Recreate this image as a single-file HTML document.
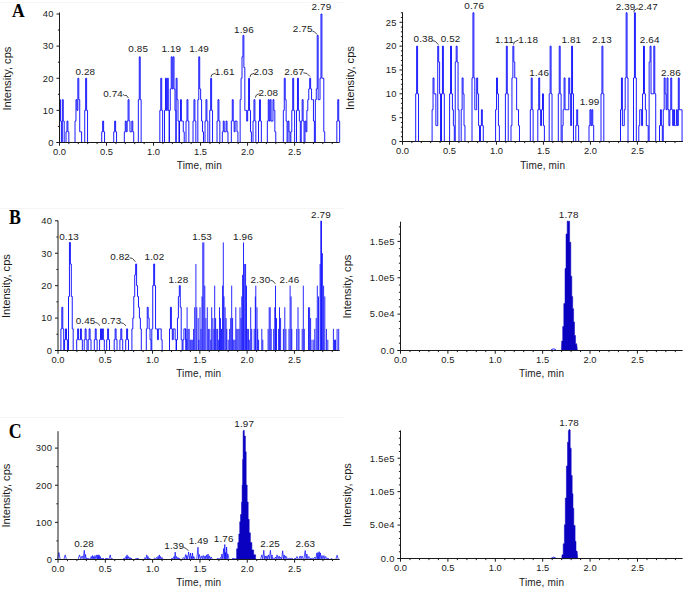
<!DOCTYPE html>
<html><head><meta charset="utf-8"><style>
html,body{margin:0;padding:0;background:#fff;}
body{width:685px;height:589px;overflow:hidden;}
svg{display:block;}
text{font-family:"Liberation Sans",sans-serif;}
.L{font-family:"Liberation Serif",serif;}
</style></head><body>
<svg width="685" height="589" viewBox="0 0 685 589">
<rect x="0" y="0" width="685" height="589" fill="#fff"/>
<g stroke="#f5f5f5" stroke-width="1"><line x1="0" y1="2.5" x2="344" y2="2.5"/><line x1="0" y1="208.5" x2="344" y2="208.5"/><line x1="0" y1="417.5" x2="344" y2="417.5"/></g>
<g font-weight="bold" font-size="17.5" fill="#000">
<text class="L" transform="translate(12,16.7) scale(1,1.12)">A</text>
<text class="L" transform="translate(9.1,223.6) scale(1.02,1.14)">B</text>
<text class="L" transform="translate(8.7,437.6) scale(1.02,1.16)">C</text>
</g>
<defs><filter id="bl" x="-5%" y="-5%" width="110%" height="110%"><feGaussianBlur stdDeviation="0.4"/></filter></defs>
<g filter="url(#bl)"><path d="M59.50,142.50 H59.50 V99.67 H60.44 H60.44 V121.08 H61.38 H61.38 V142.50 H62.32 H62.32 V99.67 H63.26 H63.26 V121.08 H64.20 V142.50 H66.03 V131.79 H66.97 H66.97 V121.08 H67.91 H67.91 V131.79 H68.85 V142.50 H75.03 V121.08 H75.97 H75.97 V99.67 H76.91 H76.91 V110.38 H77.85 H77.85 V78.25 H78.79 H78.79 V99.67 H79.73 H79.73 V131.79 H80.67 H81.61 V142.50 H84.73 V110.38 H85.67 H85.67 V78.25 H86.61 H86.61 V110.38 H87.55 V142.50 H101.73 V131.79 H102.67 H102.67 V121.08 H103.61 H103.61 V131.79 H104.55 V142.50 H113.73 V131.79 H114.67 H114.67 V121.08 H115.61 H115.61 V131.79 H116.55 V142.50 H124.33 V131.79 H125.27 H125.27 V121.08 H126.21 H126.21 V131.79 H127.15 H127.15 V121.08 H128.09 H128.09 V99.67 H129.03 H129.03 V121.08 H129.97 H129.97 V131.79 H130.91 H131.85 H131.85 V121.08 H132.79 H132.79 V131.79 H133.73 V142.50 H138.33 V99.67 H139.27 H139.27 V56.83 H140.21 H140.21 V99.67 H141.15 V142.50 H159.83 V110.38 H160.77 H160.77 V78.25 H161.71 H161.71 V110.38 H162.65 V142.50 H164.53 V110.38 H165.47 H165.47 V78.25 H166.41 H166.41 V110.38 H167.35 H167.35 V78.25 H168.29 H168.29 V110.38 H169.23 V142.50 H169.33 V110.38 H170.27 H170.27 V88.96 H171.21 H171.21 V56.83 H172.15 H172.15 V88.96 H173.09 H173.09 V56.83 H174.03 H174.03 V88.96 H174.97 H174.97 V110.38 H175.91 V142.50 H176.13 V78.25 H177.07 H177.07 V99.67 H178.01 H178.01 V121.08 H178.95 V142.50 H179.53 V121.08 H180.47 H180.47 V99.67 H181.41 H181.41 V121.08 H182.35 H183.29 H183.29 V131.79 H184.23 V142.50 H186.03 V121.08 H186.97 H186.97 V99.67 H187.91 H187.91 V121.08 H188.85 V142.50 H193.03 V121.08 H193.97 H193.97 V99.67 H194.91 H194.91 V121.08 H195.85 V142.50 H197.83 V99.67 H198.77 H198.77 V56.83 H199.71 H199.71 V88.96 H200.65 H200.65 V99.67 H201.59 H201.59 V121.08 H202.53 H202.53 V131.79 H203.47 V142.50 H205.03 V121.08 H205.97 H205.97 V99.67 H206.91 H206.91 V121.08 H207.85 V142.50 H209.73 V110.38 H210.67 H210.67 V78.25 H211.61 H211.61 V110.38 H212.55 V142.50 H217.03 V121.08 H217.97 H217.97 V99.67 H218.91 H218.91 V121.08 H219.85 V142.50 H222.33 V131.79 H223.27 H223.27 V121.08 H224.21 H224.21 V131.79 H225.15 H226.09 H226.09 V121.08 H227.03 H227.03 V131.79 H227.97 V142.50 H231.33 V121.08 H232.27 H232.27 V99.67 H233.21 H233.21 V121.08 H234.15 H234.15 V131.79 H235.09 H235.09 V121.08 H236.03 H236.97 H236.97 V131.79 H237.91 V142.50 H240.13 V99.67 H241.07 H241.07 V78.25 H242.01 H242.01 V56.83 H242.95 H242.95 V35.42 H243.89 H243.89 V67.54 H244.83 H244.83 V110.38 H245.77 H246.71 H246.71 V121.08 H247.65 H247.65 V110.38 H248.59 H248.59 V78.25 H249.53 H249.53 V110.38 H250.47 H250.47 V131.79 H251.41 V142.50 H253.03 V121.08 H253.97 H253.97 V99.67 H254.91 H254.91 V121.08 H255.85 V142.50 H258.53 V121.08 H259.47 H259.47 V99.67 H260.41 H260.41 V121.08 H261.35 V142.50 H267.33 V121.08 H268.27 H268.27 V99.67 H269.21 H269.21 V121.08 H270.15 H270.15 V99.67 H271.09 H271.09 V121.08 H272.03 H272.97 H272.97 V99.67 H273.91 H273.91 V110.38 H274.85 H274.85 V131.79 H275.79 V142.50 H283.33 V110.38 H284.27 H284.27 V78.25 H285.21 H285.21 V99.67 H286.15 H286.15 V121.08 H287.09 H287.09 V142.50 H288.03 H288.03 V121.08 H288.97 H288.97 V131.79 H289.91 H289.91 V142.50 H290.85 H290.85 V131.79 H291.79 H291.79 V110.38 H292.73 H292.73 V78.25 H293.67 H293.67 V110.38 H294.61 V142.50 H296.53 V110.38 H297.47 H297.47 V78.25 H298.41 H298.41 V110.38 H299.35 H299.35 V121.08 H300.29 H300.29 V142.50 H301.23 H301.23 V121.08 H302.17 H302.17 V99.67 H303.11 H303.11 V121.08 H304.05 H304.05 V142.50 H304.99 H304.99 V121.08 H305.93 H305.93 V131.79 H306.87 H306.87 V110.38 H307.81 H307.81 V99.67 H308.75 H308.75 V88.96 H309.69 H309.69 V78.25 H310.63 H310.63 V88.96 H311.57 H311.57 V99.67 H312.51 H313.45 H313.45 V121.08 H314.39 V142.50 H315.33 V99.67 H316.27 H316.27 V88.96 H317.21 H317.21 V35.42 H318.15 H318.15 V99.67 H319.09 H320.03 H320.03 V78.25 H320.97 H320.97 V14.00 H321.91 H321.91 V78.25 H322.85 H323.79 H323.79 V131.79 H324.73 V142.50 H336.83 V121.08 H337.77 H337.77 V99.67 H338.71 H338.71 V121.08 H339.65 V142.50 H339.20" fill="#0000ff" fill-opacity="0" stroke="#0000ff" stroke-width="0.9" stroke-opacity="1.0" stroke-linejoin="miter"/></g>
<g filter="url(#bl)"><path d="M402.50,141.50 H415.70 V93.82 H416.64 H416.64 V46.14 H417.58 H417.58 V93.82 H418.52 V141.50 H432.10 V109.71 H433.04 H433.04 V77.93 H433.98 H433.98 V93.82 H434.92 H435.86 H435.86 V125.61 H436.80 H437.74 H437.74 V46.14 H438.68 H438.68 V62.03 H439.62 H439.62 V93.82 H440.56 H440.56 V141.50 H441.50 H441.50 V93.82 H442.44 H442.44 V46.14 H443.38 H443.38 V93.82 H444.32 V141.50 H449.60 V93.82 H450.54 H450.54 V46.14 H451.48 H451.48 V93.82 H452.42 H452.42 V109.71 H453.36 H453.36 V125.61 H454.30 H454.30 V141.50 H455.24 H455.24 V62.03 H456.18 H456.18 V46.14 H457.12 H457.12 V62.03 H458.06 H458.06 V109.71 H459.00 V141.50 H461.20 V109.71 H462.14 H462.14 V77.93 H463.08 H463.08 V93.82 H464.02 H464.02 V125.61 H464.96 V141.50 H472.00 V77.93 H472.94 H472.94 V12.76 H473.88 H473.88 V77.93 H474.82 H474.82 V109.71 H475.76 H476.70 H476.70 V77.93 H477.64 H477.64 V93.82 H478.58 H478.58 V125.61 H479.52 H479.52 V141.50 H480.46 H480.46 V125.61 H481.40 H481.40 V109.71 H482.34 H482.34 V125.61 H483.28 V141.50 H495.60 V109.71 H496.54 H496.54 V77.93 H497.48 H497.48 V93.82 H498.42 H498.42 V125.61 H499.36 V141.50 H505.40 V93.82 H506.34 H506.34 V46.14 H507.28 H507.28 V93.82 H508.22 V141.50 H511.00 V125.61 H511.94 H511.94 V77.93 H512.88 H512.88 V46.14 H513.82 H513.82 V62.03 H514.76 H514.76 V77.93 H515.70 H516.64 H516.64 V109.71 H517.58 H518.52 H518.52 V125.61 H519.46 V141.50 H530.30 V109.71 H531.24 H531.24 V77.93 H532.18 H532.18 V109.71 H533.12 V141.50 H537.80 V109.71 H538.74 H538.74 V77.93 H539.68 H539.68 V109.71 H540.62 H540.62 V125.61 H541.56 H541.56 V109.71 H542.50 H542.50 V93.82 H543.44 H543.44 V125.61 H544.38 V141.50 H549.20 V93.82 H550.14 H550.14 V46.14 H551.08 H551.08 V93.82 H552.02 V141.50 H558.30 V93.82 H559.24 H559.24 V46.14 H560.18 H560.18 V93.82 H561.12 V141.50 H562.20 V125.61 H563.14 H563.14 V109.71 H564.08 H564.08 V77.93 H565.02 H565.02 V109.71 H565.96 H566.90 H567.84 H568.78 H568.78 V77.93 H569.72 H569.72 V93.82 H570.66 H570.66 V125.61 H571.60 H571.60 V46.14 H572.54 H572.54 V93.82 H573.48 V141.50 H575.80 V125.61 H576.74 H576.74 V109.71 H577.68 H577.68 V125.61 H578.62 V141.50 H589.00 V125.61 H589.94 H589.94 V109.71 H590.88 H590.88 V125.61 H591.82 H591.82 V109.71 H592.76 H592.76 V125.61 H593.70 V141.50 H601.00 V93.82 H601.94 H601.94 V46.14 H602.88 H602.88 V93.82 H603.82 V141.50 H620.50 V109.71 H621.44 H621.44 V77.93 H622.38 H622.38 V125.61 H623.32 H624.26 H624.26 V109.71 H625.20 H625.20 V77.93 H626.14 H626.14 V12.76 H627.08 H627.08 V77.93 H628.02 V141.50 H633.50 V77.93 H634.44 H634.44 V12.76 H635.38 H635.38 V77.93 H636.32 V141.50 H638.80 V125.61 H639.74 H639.74 V109.71 H640.68 H641.62 H641.62 V125.61 H642.56 H642.56 V93.82 H643.50 H643.50 V46.14 H644.44 H644.44 V93.82 H645.38 H645.38 V109.71 H646.32 H646.32 V125.61 H647.26 H648.20 H648.20 V141.50 H649.14 H649.14 V62.03 H650.08 H650.08 V46.14 H651.02 H651.02 V93.82 H651.96 H652.90 H653.84 H653.84 V46.14 H654.78 H654.78 V93.82 H655.72 V141.50 H659.50 V125.61 H660.44 H660.44 V109.71 H661.38 H661.38 V125.61 H662.32 H662.32 V141.50 H663.26 H663.26 V109.71 H664.20 H664.20 V77.93 H665.14 H665.14 V93.82 H666.08 H666.08 V109.71 H667.02 H667.02 V77.93 H667.96 H667.96 V109.71 H668.90 H668.90 V125.61 H669.84 H669.84 V109.71 H670.78 H670.78 V77.93 H671.72 H671.72 V109.71 H672.66 H672.66 V125.61 H673.60 H673.60 V109.71 H674.54 H674.54 V125.61 H675.48 H676.42 H676.42 V109.71 H677.36 H677.36 V125.61 H678.30 H678.30 V77.93 H679.24 H679.24 V109.71 H680.18 H681.12 H682.06 V141.50 H682.90" fill="#0000ff" fill-opacity="0" stroke="#0000ff" stroke-width="0.9" stroke-opacity="1.0" stroke-linejoin="miter"/></g>
<g filter="url(#bl)"><path d="M58.00,350.50 H60.90 V328.88 H61.84 H61.84 V307.27 H62.78 H62.78 V328.88 H63.72 V350.50 H64.60 V339.69 H65.54 H65.54 V328.88 H66.48 H66.48 V339.69 H67.42 V350.50 H68.50 V296.46 H69.44 H69.44 V242.42 H70.38 H70.38 V264.03 H71.32 H71.32 V296.46 H72.26 H72.26 V328.88 H73.20 V350.50 H76.70 V339.69 H77.64 H77.64 V328.88 H78.58 H78.58 V339.69 H79.52 H80.46 H80.46 V328.88 H81.40 H81.40 V339.69 H82.34 V350.50 H84.20 V339.69 H85.14 H85.14 V328.88 H86.08 H86.08 V339.69 H87.02 V350.50 H88.20 V339.69 H89.14 H89.14 V328.88 H90.08 H90.08 V339.69 H91.02 V350.50 H94.30 V339.69 H95.24 H95.24 V328.88 H96.18 H96.18 V339.69 H97.12 V350.50 H99.60 V339.69 H100.54 H100.54 V328.88 H101.48 H101.48 V339.69 H102.42 H102.42 V328.88 H103.36 H103.36 V339.69 H104.30 V350.50 H106.70 V339.69 H107.64 H107.64 V328.88 H108.58 H108.58 V339.69 H109.52 V350.50 H114.20 V339.69 H115.14 H115.14 V328.88 H116.08 H116.08 V339.69 H117.02 V350.50 H119.90 V339.69 H120.84 H120.84 V328.88 H121.78 H121.78 V339.69 H122.72 V350.50 H125.70 V339.69 H126.64 H126.64 V328.88 H127.58 H127.58 V339.69 H128.52 V350.50 H131.90 V328.88 H132.84 H132.84 V318.07 H133.78 H133.78 V296.46 H134.72 H134.72 V274.84 H135.66 H135.66 V264.03 H136.60 H136.60 V285.65 H137.54 H137.54 V296.46 H138.48 H138.48 V307.27 H139.42 H139.42 V318.07 H140.36 H140.36 V328.88 H141.30 V350.50 H146.30 V328.88 H147.24 H147.24 V307.27 H148.18 H148.18 V318.07 H149.12 H149.12 V328.88 H150.06 H150.06 V339.69 H151.00 V350.50 H151.80 V328.88 H152.74 H152.74 V285.65 H153.68 H153.68 V264.03 H154.62 H154.62 V285.65 H155.56 H155.56 V328.88 H156.50 H157.44 H157.44 V339.69 H158.38 H158.38 V328.88 H159.32 H160.26 H161.20 H161.20 V339.69 H162.14 V350.50 H169.50 V328.88 H170.44 H170.44 V307.27 H171.38 H171.38 V328.88 H172.32 H172.32 V339.69 H173.26 H173.26 V328.88 H174.20 H175.14 H175.14 V339.69 H176.08 V350.50 H176.50 V339.69 H177.44 H177.44 V318.07 H178.38 H178.38 V296.46 H179.32 H179.32 V285.65 H180.26 H180.26 V307.27 H181.20 H181.20 V339.69 H182.14 V350.50 H183.00 V339.69 H183.94 H183.94 V328.88 H184.88 H185.82 H185.82 V339.69 H186.76 V350.50 H339.50" fill="#0000ff" fill-opacity="0" stroke="#0000ff" stroke-width="0.9" stroke-opacity="1.0" stroke-linejoin="miter"/><path d="M185.70,350.50V328.88 M187.10,350.50V307.27 M188.10,350.50V328.88 M189.20,350.50V328.88 M190.30,350.50V339.69 M191.30,350.50V339.69 M192.70,350.50V339.69 M193.60,350.50V328.88 M194.70,350.50V307.27 M195.90,350.50V264.03 M196.80,350.50V307.27 M198.20,350.50V318.07 M198.90,350.50V339.69 M200.00,350.50V307.27 M201.00,350.50V328.88 M202.00,350.50V296.46 M202.80,350.50V242.42 M203.80,350.50V242.42 M204.80,350.50V285.65 M205.90,350.50V318.07 M207.30,350.50V307.27 M208.40,350.50V328.88 M209.80,350.50V328.88 M210.80,350.50V339.69 M211.70,350.50V307.27 M212.90,350.50V318.07 M214.00,350.50V328.88 M214.70,350.50V285.65 M215.60,350.50V318.07 M216.80,350.50V328.88 M217.70,350.50V328.88 M218.70,350.50V339.69 M219.50,350.50V307.27 M220.50,350.50V318.07 M221.50,350.50V328.88 M222.60,350.50V285.65 M223.30,350.50V242.42 M224.00,350.50V296.46 M225.10,350.50V307.27 M226.10,350.50V318.07 M226.80,350.50V328.88 M228.20,350.50V339.69 M229.60,350.50V328.88 M230.70,350.50V318.07 M231.70,350.50V285.65 M232.60,350.50V318.07 M233.70,350.50V339.69 M234.90,350.50V339.69 M235.80,350.50V307.27 M236.80,350.50V328.88 M237.90,350.50V328.88 M239.00,350.50V328.88 M240.00,350.50V307.27 M241.00,350.50V318.07 M241.80,350.50V296.46 M242.60,350.50V274.84 M243.50,350.50V242.42 M244.70,350.50V264.03 M245.60,350.50V264.03 M246.50,350.50V285.65 M247.30,350.50V328.88 M248.40,350.50V328.88 M249.30,350.50V339.69 M250.70,350.50V307.27 M251.70,350.50V328.88 M254.20,350.50V328.88 M255.30,350.50V296.46 M255.80,350.50V285.65 M257.00,350.50V307.27 M257.70,350.50V328.88 M258.60,350.50V339.69 M261.80,350.50V328.88 M262.80,350.50V339.69 M268.10,350.50V328.88 M269.20,350.50V307.27 M270.20,350.50V307.27 M271.20,350.50V328.88 M273.70,350.50V328.88 M274.80,350.50V307.27 M275.50,350.50V285.65 M276.50,350.50V318.07 M278.60,350.50V328.88 M279.50,350.50V307.27 M280.60,350.50V318.07 M283.40,350.50V328.88 M284.80,350.50V307.27 M285.90,350.50V328.88 M289.00,350.50V328.88 M290.10,350.50V285.65 M291.10,350.50V296.46 M291.80,350.50V328.88 M296.70,350.50V328.88 M298.00,350.50V307.27 M299.00,350.50V328.88 M302.20,350.50V328.88 M303.30,350.50V285.65 M304.30,350.50V328.88 M308.50,350.50V307.27 M309.60,350.50V307.27 M310.60,350.50V318.07 M312.00,350.50V339.69 M313.80,350.50V339.69 M314.80,350.50V328.88 M316.20,350.50V318.07 M317.30,350.50V285.65 M318.50,350.50V296.46 M320.10,350.50V264.03 M320.80,350.50V220.80 M321.50,350.50V220.80 M322.40,350.50V253.23 M323.60,350.50V285.65 M324.80,350.50V296.46 M326.40,350.50V328.88 M327.80,350.50V339.69 M333.40,350.50V328.88 M334.50,350.50V339.69 M335.50,350.50V339.69 M337.10,350.50V328.88 M338.70,350.50V328.88" fill="none" stroke="#0000ff" stroke-width="0.85"/></g>
<polygon points="561.40,350.40 561.70,341.10 562.70,341.10 562.70,326.50 563.80,326.50 563.80,303.60 565.00,303.60 565.00,268.50 566.00,268.50 566.00,234.00 567.20,234.00 567.20,221.20 568.00,220.90 568.40,222.50 568.80,220.90 569.60,221.20 569.60,242.30 570.80,242.30 570.80,276.20 571.80,276.20 571.80,296.60 572.70,296.60 572.70,308.70 573.60,308.70 573.60,322.00 574.50,322.00 574.50,335.40 575.50,335.40 575.50,343.70 576.70,343.70 577.40,350.40" fill="#0a00c0" stroke="#0a00c0" stroke-width="0.5"/><path d="M550.50,350.50 Q553.50,347.30 556.50,350.50" fill="none" stroke="#0000ff" stroke-width="0.9"/>
<polyline points="58.00,559.50 57.60,559.50 58.90,552.50 60.20,559.50 63.90,559.50 65.20,554.90 66.50,559.50 78.20,559.50 79.50,554.90 80.80,558.90 82.10,555.90 83.20,558.90 84.30,550.30 84.90,558.90 85.50,554.50 86.25,558.90 87.00,558.00 87.75,558.90 88.50,558.00 89.80,559.50 90.00,559.50 91.30,556.50 91.90,558.90 92.50,555.50 93.10,558.90 93.70,556.50 94.35,558.90 95.00,555.50 95.95,558.90 96.90,554.90 97.45,558.90 98.00,554.90 98.55,558.90 99.10,554.90 99.65,558.90 100.20,556.50 100.85,558.90 101.50,558.00 102.25,558.90 103.00,558.00 104.30,559.50 104.70,559.50 106.00,558.00 106.75,558.90 107.50,558.00 108.80,559.50 108.90,559.50 110.20,554.90 111.10,558.90 112.00,558.50 113.30,559.50 122.80,559.50 124.10,558.00 125.05,558.90 126.00,556.50 126.50,558.90 127.00,554.90 127.75,558.90 128.50,556.50 129.25,558.90 130.00,557.50 130.60,558.90 131.20,558.00 132.50,559.50 135.00,559.50 136.30,558.00 137.10,558.90 137.90,558.00 139.20,559.50 143.70,559.50 145.00,557.50 145.90,558.90 146.80,554.90 147.40,558.90 148.00,556.50 148.80,558.90 149.60,558.00 150.90,559.50 153.40,559.50 154.70,558.00 155.60,558.90 156.50,557.50 157.25,558.90 158.00,556.50 158.65,558.90 159.30,554.90 159.90,558.90 160.50,556.50 161.25,558.90 162.00,557.50 163.30,559.50 170.80,559.50 172.10,558.00 173.05,558.90 174.00,556.50 174.60,558.90 175.20,552.10 175.85,558.90 176.50,556.50 177.25,558.90 178.00,557.50 178.65,558.90 179.30,558.00 180.60,559.50 182.10,559.50 183.40,557.50 184.55,558.90 185.70,554.50 186.25,558.90 186.80,555.50 187.70,558.90 188.60,552.10 189.60,558.90 190.60,553.00 191.10,558.90 191.60,556.50 192.05,558.90 192.50,553.00 193.15,558.90 193.80,556.50 195.10,559.50 196.70,559.50 198.00,547.20 198.65,558.90 199.30,554.50 200.40,558.90 201.50,555.90 202.35,558.90 203.20,555.50 204.10,558.90 205.00,555.90 205.75,558.90 206.50,554.90 207.25,558.90 208.00,554.00 208.75,558.90 209.50,555.90 210.35,558.90 211.20,557.00 212.50,559.50 216.50,559.50 217.80,558.00 219.10,559.50 219.20,559.50 220.50,557.50 221.20,558.90 221.90,554.00 222.80,558.90 223.70,548.50 224.25,558.90 224.80,544.50 225.20,558.90 225.60,552.50 226.10,558.90 226.60,547.00 227.20,558.90 227.80,553.90 229.10,559.50 231.80,559.50 233.10,558.00 233.80,558.90 234.50,558.00 235.80,559.50 260.50,559.50 261.80,554.90 262.80,558.90 263.80,550.30 264.55,558.90 265.30,555.90 266.10,558.90 266.90,555.90 267.65,558.90 268.40,554.90 269.40,558.90 270.40,550.30 271.20,558.90 272.00,554.90 272.75,558.90 273.50,558.00 274.50,558.90 275.50,557.00 276.25,558.90 277.00,554.90 278.05,558.90 279.10,555.90 279.90,558.90 280.70,557.00 281.70,558.90 282.70,550.80 283.45,558.90 284.20,554.90 285.00,558.90 285.80,555.90 286.80,558.90 287.80,558.00 288.85,558.90 289.90,558.00 290.90,558.90 291.90,558.00 293.20,559.50 293.70,559.50 295.00,558.00 296.00,558.90 297.00,556.50 298.30,559.50 298.80,559.50 300.10,555.90 301.10,558.90 302.10,555.90 303.40,559.50 303.90,559.50 305.20,550.50 306.05,558.90 306.90,553.90 307.85,558.90 308.80,556.50 309.90,558.90 311.00,558.00 311.90,558.90 312.80,558.00 313.90,558.90 315.00,557.00 315.95,558.90 316.90,552.90 317.45,558.90 318.00,552.50 318.60,558.90 319.20,551.70 319.80,558.90 320.40,552.90 321.20,558.90 322.00,555.50 322.95,558.90 323.90,555.50 324.75,558.90 325.60,556.50 326.80,558.90 328.00,558.00 329.30,559.50 330.20,559.50 331.50,558.50 332.80,559.50 335.80,559.50 337.10,555.20 338.40,559.50 339.50,559.50" fill="none" stroke="#0000ff" stroke-width="0.7" stroke-linejoin="round"/><polygon points="235.80,559.40 236.60,557.80 236.60,548.70 237.80,548.70 237.80,542.60 238.80,542.60 238.80,534.00 239.70,534.00 239.70,521.80 240.50,521.80 240.50,514.40 241.50,514.40 241.50,502.20 242.10,502.20 242.10,485.00 242.60,485.00 242.60,459.50 243.10,459.50 243.10,431.50 243.60,430.20 244.30,430.40 244.30,436.00 245.40,436.00 245.40,451.70 246.20,451.70 246.20,485.00 247.20,485.00 247.20,502.00 248.20,502.00 248.20,519.30 249.20,519.30 249.20,532.80 250.40,532.80 250.40,542.60 251.90,542.60 251.90,549.90 253.70,549.90 253.70,554.80 255.60,554.80 255.60,559.40" fill="#0a00c0" stroke="#0a00c0" stroke-width="0.5"/>
<polygon points="561.80,558.70 562.00,554.80 563.20,554.80 563.20,543.80 564.40,543.80 564.40,524.80 565.30,524.80 565.30,498.00 566.40,498.00 566.40,466.00 567.50,466.00 567.50,442.20 568.40,442.20 568.40,431.00 569.30,429.20 570.20,430.00 570.20,448.20 571.20,448.20 571.20,475.50 572.20,475.50 572.20,493.70 573.00,493.70 573.00,508.30 573.80,508.30 573.80,525.50 575.10,525.50 575.10,541.30 576.00,541.30 576.00,551.10 577.10,551.10 577.80,558.70" fill="#0a00c0" stroke="#0a00c0" stroke-width="0.5"/><path d="M550.80,558.50 Q553.65,555.90 556.50,558.50" fill="none" stroke="#0000ff" stroke-width="0.9"/>
<g stroke="#1a1a1a" stroke-width="1" fill="none">
<line x1="59.5" y1="12.5" x2="59.5" y2="142.5" />
<line x1="56.5" y1="142.5" x2="339.2" y2="142.5" />
<line x1="56.5" y1="142.5" x2="59.5" y2="142.5" />
<line x1="56.5" y1="110.38" x2="59.5" y2="110.38" />
<line x1="56.5" y1="78.25" x2="59.5" y2="78.25" />
<line x1="56.5" y1="46.12" x2="59.5" y2="46.12" />
<line x1="56.5" y1="14" x2="59.5" y2="14" />
<line x1="57.9" y1="126.44" x2="59.5" y2="126.44" />
<line x1="57.9" y1="94.31" x2="59.5" y2="94.31" />
<line x1="57.9" y1="62.19" x2="59.5" y2="62.19" />
<line x1="57.9" y1="30.06" x2="59.5" y2="30.06" />
<line x1="59.5" y1="142.5" x2="59.5" y2="145.7" />
<line x1="68.9" y1="142.5" x2="68.9" y2="144.1" />
<line x1="78.31" y1="142.5" x2="78.31" y2="144.1" />
<line x1="87.71" y1="142.5" x2="87.71" y2="144.1" />
<line x1="97.12" y1="142.5" x2="97.12" y2="144.1" />
<line x1="106.52" y1="142.5" x2="106.52" y2="145.7" />
<line x1="115.92" y1="142.5" x2="115.92" y2="144.1" />
<line x1="125.33" y1="142.5" x2="125.33" y2="144.1" />
<line x1="134.73" y1="142.5" x2="134.73" y2="144.1" />
<line x1="144.14" y1="142.5" x2="144.14" y2="144.1" />
<line x1="153.54" y1="142.5" x2="153.54" y2="145.7" />
<line x1="162.94" y1="142.5" x2="162.94" y2="144.1" />
<line x1="172.35" y1="142.5" x2="172.35" y2="144.1" />
<line x1="181.75" y1="142.5" x2="181.75" y2="144.1" />
<line x1="191.16" y1="142.5" x2="191.16" y2="144.1" />
<line x1="200.56" y1="142.5" x2="200.56" y2="145.7" />
<line x1="209.96" y1="142.5" x2="209.96" y2="144.1" />
<line x1="219.37" y1="142.5" x2="219.37" y2="144.1" />
<line x1="228.77" y1="142.5" x2="228.77" y2="144.1" />
<line x1="238.18" y1="142.5" x2="238.18" y2="144.1" />
<line x1="247.58" y1="142.5" x2="247.58" y2="145.7" />
<line x1="256.98" y1="142.5" x2="256.98" y2="144.1" />
<line x1="266.39" y1="142.5" x2="266.39" y2="144.1" />
<line x1="275.79" y1="142.5" x2="275.79" y2="144.1" />
<line x1="285.2" y1="142.5" x2="285.2" y2="144.1" />
<line x1="294.6" y1="142.5" x2="294.6" y2="145.7" />
<line x1="304" y1="142.5" x2="304" y2="144.1" />
<line x1="313.41" y1="142.5" x2="313.41" y2="144.1" />
<line x1="322.81" y1="142.5" x2="322.81" y2="144.1" />
<line x1="332.22" y1="142.5" x2="332.22" y2="144.1" />
<line x1="402.5" y1="12.3" x2="402.5" y2="141.5" />
<line x1="399.5" y1="141.5" x2="682.9" y2="141.5" />
<line x1="399.5" y1="141.5" x2="402.5" y2="141.5" />
<line x1="399.5" y1="117.66" x2="402.5" y2="117.66" />
<line x1="399.5" y1="93.82" x2="402.5" y2="93.82" />
<line x1="399.5" y1="69.98" x2="402.5" y2="69.98" />
<line x1="399.5" y1="46.14" x2="402.5" y2="46.14" />
<line x1="399.5" y1="22.3" x2="402.5" y2="22.3" />
<line x1="400.9" y1="136.73" x2="402.5" y2="136.73" />
<line x1="400.9" y1="131.96" x2="402.5" y2="131.96" />
<line x1="400.9" y1="127.2" x2="402.5" y2="127.2" />
<line x1="400.9" y1="122.43" x2="402.5" y2="122.43" />
<line x1="400.9" y1="112.89" x2="402.5" y2="112.89" />
<line x1="400.9" y1="108.12" x2="402.5" y2="108.12" />
<line x1="400.9" y1="103.36" x2="402.5" y2="103.36" />
<line x1="400.9" y1="98.59" x2="402.5" y2="98.59" />
<line x1="400.9" y1="89.05" x2="402.5" y2="89.05" />
<line x1="400.9" y1="84.28" x2="402.5" y2="84.28" />
<line x1="400.9" y1="79.52" x2="402.5" y2="79.52" />
<line x1="400.9" y1="74.75" x2="402.5" y2="74.75" />
<line x1="400.9" y1="65.21" x2="402.5" y2="65.21" />
<line x1="400.9" y1="60.44" x2="402.5" y2="60.44" />
<line x1="400.9" y1="55.68" x2="402.5" y2="55.68" />
<line x1="400.9" y1="50.91" x2="402.5" y2="50.91" />
<line x1="400.9" y1="41.37" x2="402.5" y2="41.37" />
<line x1="400.9" y1="36.6" x2="402.5" y2="36.6" />
<line x1="400.9" y1="31.84" x2="402.5" y2="31.84" />
<line x1="400.9" y1="27.07" x2="402.5" y2="27.07" />
<line x1="400.9" y1="17.53" x2="402.5" y2="17.53" />
<line x1="400.9" y1="12.76" x2="402.5" y2="12.76" />
<line x1="402.5" y1="141.5" x2="402.5" y2="144.7" />
<line x1="411.9" y1="141.5" x2="411.9" y2="143.1" />
<line x1="421.29" y1="141.5" x2="421.29" y2="143.1" />
<line x1="430.69" y1="141.5" x2="430.69" y2="143.1" />
<line x1="440.08" y1="141.5" x2="440.08" y2="143.1" />
<line x1="449.48" y1="141.5" x2="449.48" y2="144.7" />
<line x1="458.88" y1="141.5" x2="458.88" y2="143.1" />
<line x1="468.27" y1="141.5" x2="468.27" y2="143.1" />
<line x1="477.67" y1="141.5" x2="477.67" y2="143.1" />
<line x1="487.06" y1="141.5" x2="487.06" y2="143.1" />
<line x1="496.46" y1="141.5" x2="496.46" y2="144.7" />
<line x1="505.86" y1="141.5" x2="505.86" y2="143.1" />
<line x1="515.25" y1="141.5" x2="515.25" y2="143.1" />
<line x1="524.65" y1="141.5" x2="524.65" y2="143.1" />
<line x1="534.04" y1="141.5" x2="534.04" y2="143.1" />
<line x1="543.44" y1="141.5" x2="543.44" y2="144.7" />
<line x1="552.84" y1="141.5" x2="552.84" y2="143.1" />
<line x1="562.23" y1="141.5" x2="562.23" y2="143.1" />
<line x1="571.63" y1="141.5" x2="571.63" y2="143.1" />
<line x1="581.02" y1="141.5" x2="581.02" y2="143.1" />
<line x1="590.42" y1="141.5" x2="590.42" y2="144.7" />
<line x1="599.82" y1="141.5" x2="599.82" y2="143.1" />
<line x1="609.21" y1="141.5" x2="609.21" y2="143.1" />
<line x1="618.61" y1="141.5" x2="618.61" y2="143.1" />
<line x1="628" y1="141.5" x2="628" y2="143.1" />
<line x1="637.4" y1="141.5" x2="637.4" y2="144.7" />
<line x1="646.8" y1="141.5" x2="646.8" y2="143.1" />
<line x1="656.19" y1="141.5" x2="656.19" y2="143.1" />
<line x1="665.59" y1="141.5" x2="665.59" y2="143.1" />
<line x1="674.98" y1="141.5" x2="674.98" y2="143.1" />
<line x1="58" y1="220.6" x2="58" y2="350.5" />
<line x1="55" y1="350.5" x2="339.5" y2="350.5" />
<line x1="55" y1="350.5" x2="58" y2="350.5" />
<line x1="55" y1="318.07" x2="58" y2="318.07" />
<line x1="55" y1="285.65" x2="58" y2="285.65" />
<line x1="55" y1="253.23" x2="58" y2="253.23" />
<line x1="55" y1="220.8" x2="58" y2="220.8" />
<line x1="56.4" y1="334.29" x2="58" y2="334.29" />
<line x1="56.4" y1="301.86" x2="58" y2="301.86" />
<line x1="56.4" y1="269.44" x2="58" y2="269.44" />
<line x1="56.4" y1="237.01" x2="58" y2="237.01" />
<line x1="58" y1="350.5" x2="58" y2="353.7" />
<line x1="67.46" y1="350.5" x2="67.46" y2="352.1" />
<line x1="76.91" y1="350.5" x2="76.91" y2="352.1" />
<line x1="86.37" y1="350.5" x2="86.37" y2="352.1" />
<line x1="95.82" y1="350.5" x2="95.82" y2="352.1" />
<line x1="105.28" y1="350.5" x2="105.28" y2="353.7" />
<line x1="114.74" y1="350.5" x2="114.74" y2="352.1" />
<line x1="124.19" y1="350.5" x2="124.19" y2="352.1" />
<line x1="133.65" y1="350.5" x2="133.65" y2="352.1" />
<line x1="143.1" y1="350.5" x2="143.1" y2="352.1" />
<line x1="152.56" y1="350.5" x2="152.56" y2="353.7" />
<line x1="162.02" y1="350.5" x2="162.02" y2="352.1" />
<line x1="171.47" y1="350.5" x2="171.47" y2="352.1" />
<line x1="180.93" y1="350.5" x2="180.93" y2="352.1" />
<line x1="190.38" y1="350.5" x2="190.38" y2="352.1" />
<line x1="199.84" y1="350.5" x2="199.84" y2="353.7" />
<line x1="209.3" y1="350.5" x2="209.3" y2="352.1" />
<line x1="218.75" y1="350.5" x2="218.75" y2="352.1" />
<line x1="228.21" y1="350.5" x2="228.21" y2="352.1" />
<line x1="237.66" y1="350.5" x2="237.66" y2="352.1" />
<line x1="247.12" y1="350.5" x2="247.12" y2="353.7" />
<line x1="256.58" y1="350.5" x2="256.58" y2="352.1" />
<line x1="266.03" y1="350.5" x2="266.03" y2="352.1" />
<line x1="275.49" y1="350.5" x2="275.49" y2="352.1" />
<line x1="284.94" y1="350.5" x2="284.94" y2="352.1" />
<line x1="294.4" y1="350.5" x2="294.4" y2="353.7" />
<line x1="303.86" y1="350.5" x2="303.86" y2="352.1" />
<line x1="313.31" y1="350.5" x2="313.31" y2="352.1" />
<line x1="322.77" y1="350.5" x2="322.77" y2="352.1" />
<line x1="332.22" y1="350.5" x2="332.22" y2="352.1" />
<line x1="400.5" y1="221.7" x2="400.5" y2="350.5" />
<line x1="397.5" y1="350.5" x2="682.7" y2="350.5" />
<line x1="397.5" y1="350.5" x2="400.5" y2="350.5" />
<line x1="397.5" y1="314.13" x2="400.5" y2="314.13" />
<line x1="397.5" y1="277.77" x2="400.5" y2="277.77" />
<line x1="397.5" y1="241.4" x2="400.5" y2="241.4" />
<line x1="398.9" y1="343.23" x2="400.5" y2="343.23" />
<line x1="398.9" y1="335.95" x2="400.5" y2="335.95" />
<line x1="398.9" y1="328.68" x2="400.5" y2="328.68" />
<line x1="398.9" y1="321.41" x2="400.5" y2="321.41" />
<line x1="398.9" y1="306.86" x2="400.5" y2="306.86" />
<line x1="398.9" y1="299.59" x2="400.5" y2="299.59" />
<line x1="398.9" y1="292.31" x2="400.5" y2="292.31" />
<line x1="398.9" y1="285.04" x2="400.5" y2="285.04" />
<line x1="398.9" y1="270.49" x2="400.5" y2="270.49" />
<line x1="398.9" y1="263.22" x2="400.5" y2="263.22" />
<line x1="398.9" y1="255.95" x2="400.5" y2="255.95" />
<line x1="398.9" y1="248.67" x2="400.5" y2="248.67" />
<line x1="398.9" y1="234.13" x2="400.5" y2="234.13" />
<line x1="398.9" y1="226.85" x2="400.5" y2="226.85" />
<line x1="400.5" y1="350.5" x2="400.5" y2="353.7" />
<line x1="409.98" y1="350.5" x2="409.98" y2="352.1" />
<line x1="419.45" y1="350.5" x2="419.45" y2="352.1" />
<line x1="428.93" y1="350.5" x2="428.93" y2="352.1" />
<line x1="438.4" y1="350.5" x2="438.4" y2="352.1" />
<line x1="447.88" y1="350.5" x2="447.88" y2="353.7" />
<line x1="457.36" y1="350.5" x2="457.36" y2="352.1" />
<line x1="466.83" y1="350.5" x2="466.83" y2="352.1" />
<line x1="476.31" y1="350.5" x2="476.31" y2="352.1" />
<line x1="485.78" y1="350.5" x2="485.78" y2="352.1" />
<line x1="495.26" y1="350.5" x2="495.26" y2="353.7" />
<line x1="504.74" y1="350.5" x2="504.74" y2="352.1" />
<line x1="514.21" y1="350.5" x2="514.21" y2="352.1" />
<line x1="523.69" y1="350.5" x2="523.69" y2="352.1" />
<line x1="533.16" y1="350.5" x2="533.16" y2="352.1" />
<line x1="542.64" y1="350.5" x2="542.64" y2="353.7" />
<line x1="552.12" y1="350.5" x2="552.12" y2="352.1" />
<line x1="561.59" y1="350.5" x2="561.59" y2="352.1" />
<line x1="571.07" y1="350.5" x2="571.07" y2="352.1" />
<line x1="580.54" y1="350.5" x2="580.54" y2="352.1" />
<line x1="590.02" y1="350.5" x2="590.02" y2="353.7" />
<line x1="599.5" y1="350.5" x2="599.5" y2="352.1" />
<line x1="608.97" y1="350.5" x2="608.97" y2="352.1" />
<line x1="618.45" y1="350.5" x2="618.45" y2="352.1" />
<line x1="627.92" y1="350.5" x2="627.92" y2="352.1" />
<line x1="637.4" y1="350.5" x2="637.4" y2="353.7" />
<line x1="646.88" y1="350.5" x2="646.88" y2="352.1" />
<line x1="656.35" y1="350.5" x2="656.35" y2="352.1" />
<line x1="665.83" y1="350.5" x2="665.83" y2="352.1" />
<line x1="675.3" y1="350.5" x2="675.3" y2="352.1" />
<line x1="58" y1="431.2" x2="58" y2="559.5" />
<line x1="55" y1="559.5" x2="339.5" y2="559.5" />
<line x1="55" y1="559.5" x2="58" y2="559.5" />
<line x1="55" y1="522.37" x2="58" y2="522.37" />
<line x1="55" y1="485.23" x2="58" y2="485.23" />
<line x1="55" y1="448.1" x2="58" y2="448.1" />
<line x1="56.4" y1="540.93" x2="58" y2="540.93" />
<line x1="56.4" y1="503.8" x2="58" y2="503.8" />
<line x1="56.4" y1="466.67" x2="58" y2="466.67" />
<line x1="58" y1="559.5" x2="58" y2="562.7" />
<line x1="67.46" y1="559.5" x2="67.46" y2="561.1" />
<line x1="76.93" y1="559.5" x2="76.93" y2="561.1" />
<line x1="86.39" y1="559.5" x2="86.39" y2="561.1" />
<line x1="95.86" y1="559.5" x2="95.86" y2="561.1" />
<line x1="105.32" y1="559.5" x2="105.32" y2="562.7" />
<line x1="114.78" y1="559.5" x2="114.78" y2="561.1" />
<line x1="124.25" y1="559.5" x2="124.25" y2="561.1" />
<line x1="133.71" y1="559.5" x2="133.71" y2="561.1" />
<line x1="143.18" y1="559.5" x2="143.18" y2="561.1" />
<line x1="152.64" y1="559.5" x2="152.64" y2="562.7" />
<line x1="162.1" y1="559.5" x2="162.1" y2="561.1" />
<line x1="171.57" y1="559.5" x2="171.57" y2="561.1" />
<line x1="181.03" y1="559.5" x2="181.03" y2="561.1" />
<line x1="190.5" y1="559.5" x2="190.5" y2="561.1" />
<line x1="199.96" y1="559.5" x2="199.96" y2="562.7" />
<line x1="209.42" y1="559.5" x2="209.42" y2="561.1" />
<line x1="218.89" y1="559.5" x2="218.89" y2="561.1" />
<line x1="228.35" y1="559.5" x2="228.35" y2="561.1" />
<line x1="237.82" y1="559.5" x2="237.82" y2="561.1" />
<line x1="247.28" y1="559.5" x2="247.28" y2="562.7" />
<line x1="256.74" y1="559.5" x2="256.74" y2="561.1" />
<line x1="266.21" y1="559.5" x2="266.21" y2="561.1" />
<line x1="275.67" y1="559.5" x2="275.67" y2="561.1" />
<line x1="285.14" y1="559.5" x2="285.14" y2="561.1" />
<line x1="294.6" y1="559.5" x2="294.6" y2="562.7" />
<line x1="304.06" y1="559.5" x2="304.06" y2="561.1" />
<line x1="313.53" y1="559.5" x2="313.53" y2="561.1" />
<line x1="322.99" y1="559.5" x2="322.99" y2="561.1" />
<line x1="332.46" y1="559.5" x2="332.46" y2="561.1" />
<line x1="400.5" y1="430.4" x2="400.5" y2="558.5" />
<line x1="397.5" y1="558.5" x2="682.7" y2="558.5" />
<line x1="397.5" y1="558.5" x2="400.5" y2="558.5" />
<line x1="397.5" y1="525.07" x2="400.5" y2="525.07" />
<line x1="397.5" y1="491.63" x2="400.5" y2="491.63" />
<line x1="397.5" y1="458.2" x2="400.5" y2="458.2" />
<line x1="398.9" y1="551.81" x2="400.5" y2="551.81" />
<line x1="398.9" y1="545.13" x2="400.5" y2="545.13" />
<line x1="398.9" y1="538.44" x2="400.5" y2="538.44" />
<line x1="398.9" y1="531.75" x2="400.5" y2="531.75" />
<line x1="398.9" y1="518.38" x2="400.5" y2="518.38" />
<line x1="398.9" y1="511.69" x2="400.5" y2="511.69" />
<line x1="398.9" y1="505.01" x2="400.5" y2="505.01" />
<line x1="398.9" y1="498.32" x2="400.5" y2="498.32" />
<line x1="398.9" y1="484.95" x2="400.5" y2="484.95" />
<line x1="398.9" y1="478.26" x2="400.5" y2="478.26" />
<line x1="398.9" y1="471.57" x2="400.5" y2="471.57" />
<line x1="398.9" y1="464.89" x2="400.5" y2="464.89" />
<line x1="398.9" y1="451.51" x2="400.5" y2="451.51" />
<line x1="398.9" y1="444.83" x2="400.5" y2="444.83" />
<line x1="398.9" y1="438.14" x2="400.5" y2="438.14" />
<line x1="398.9" y1="431.45" x2="400.5" y2="431.45" />
<line x1="400.5" y1="558.5" x2="400.5" y2="561.7" />
<line x1="409.98" y1="558.5" x2="409.98" y2="560.1" />
<line x1="419.46" y1="558.5" x2="419.46" y2="560.1" />
<line x1="428.94" y1="558.5" x2="428.94" y2="560.1" />
<line x1="438.42" y1="558.5" x2="438.42" y2="560.1" />
<line x1="447.9" y1="558.5" x2="447.9" y2="561.7" />
<line x1="457.38" y1="558.5" x2="457.38" y2="560.1" />
<line x1="466.86" y1="558.5" x2="466.86" y2="560.1" />
<line x1="476.34" y1="558.5" x2="476.34" y2="560.1" />
<line x1="485.82" y1="558.5" x2="485.82" y2="560.1" />
<line x1="495.3" y1="558.5" x2="495.3" y2="561.7" />
<line x1="504.78" y1="558.5" x2="504.78" y2="560.1" />
<line x1="514.26" y1="558.5" x2="514.26" y2="560.1" />
<line x1="523.74" y1="558.5" x2="523.74" y2="560.1" />
<line x1="533.22" y1="558.5" x2="533.22" y2="560.1" />
<line x1="542.7" y1="558.5" x2="542.7" y2="561.7" />
<line x1="552.18" y1="558.5" x2="552.18" y2="560.1" />
<line x1="561.66" y1="558.5" x2="561.66" y2="560.1" />
<line x1="571.14" y1="558.5" x2="571.14" y2="560.1" />
<line x1="580.62" y1="558.5" x2="580.62" y2="560.1" />
<line x1="590.1" y1="558.5" x2="590.1" y2="561.7" />
<line x1="599.58" y1="558.5" x2="599.58" y2="560.1" />
<line x1="609.06" y1="558.5" x2="609.06" y2="560.1" />
<line x1="618.54" y1="558.5" x2="618.54" y2="560.1" />
<line x1="628.02" y1="558.5" x2="628.02" y2="560.1" />
<line x1="637.5" y1="558.5" x2="637.5" y2="561.7" />
<line x1="646.98" y1="558.5" x2="646.98" y2="560.1" />
<line x1="656.46" y1="558.5" x2="656.46" y2="560.1" />
<line x1="665.94" y1="558.5" x2="665.94" y2="560.1" />
<line x1="675.42" y1="558.5" x2="675.42" y2="560.1" />
</g>
<g font-size="9.4" fill="#1a1a1a">
<text x="53.9" y="145.8" text-anchor="end" letter-spacing="0.35">0</text>
<text x="53.9" y="113.67" text-anchor="end" letter-spacing="0.35">10</text>
<text x="53.9" y="81.55" text-anchor="end" letter-spacing="0.35">20</text>
<text x="53.9" y="49.42" text-anchor="end" letter-spacing="0.35">30</text>
<text x="53.9" y="17.3" text-anchor="end" letter-spacing="0.35">40</text>
<text x="59.5" y="155.1" text-anchor="middle">0.0</text>
<text x="106.52" y="155.1" text-anchor="middle">0.5</text>
<text x="153.54" y="155.1" text-anchor="middle">1.0</text>
<text x="200.56" y="155.1" text-anchor="middle">1.5</text>
<text x="247.58" y="155.1" text-anchor="middle">2.0</text>
<text x="294.6" y="155.1" text-anchor="middle">2.5</text>
<text x="396.9" y="144.8" text-anchor="end" letter-spacing="0.35">0</text>
<text x="396.9" y="120.96" text-anchor="end" letter-spacing="0.35">5</text>
<text x="396.9" y="97.12" text-anchor="end" letter-spacing="0.35">10</text>
<text x="396.9" y="73.28" text-anchor="end" letter-spacing="0.35">15</text>
<text x="396.9" y="49.44" text-anchor="end" letter-spacing="0.35">20</text>
<text x="396.9" y="25.6" text-anchor="end" letter-spacing="0.35">25</text>
<text x="402.5" y="154.1" text-anchor="middle">0.0</text>
<text x="449.48" y="154.1" text-anchor="middle">0.5</text>
<text x="496.46" y="154.1" text-anchor="middle">1.0</text>
<text x="543.44" y="154.1" text-anchor="middle">1.5</text>
<text x="590.42" y="154.1" text-anchor="middle">2.0</text>
<text x="637.4" y="154.1" text-anchor="middle">2.5</text>
<text x="52.4" y="353.8" text-anchor="end" letter-spacing="0.35">0</text>
<text x="52.4" y="321.38" text-anchor="end" letter-spacing="0.35">10</text>
<text x="52.4" y="288.95" text-anchor="end" letter-spacing="0.35">20</text>
<text x="52.4" y="256.53" text-anchor="end" letter-spacing="0.35">30</text>
<text x="52.4" y="224.1" text-anchor="end" letter-spacing="0.35">40</text>
<text x="58" y="363.1" text-anchor="middle">0.0</text>
<text x="105.28" y="363.1" text-anchor="middle">0.5</text>
<text x="152.56" y="363.1" text-anchor="middle">1.0</text>
<text x="199.84" y="363.1" text-anchor="middle">1.5</text>
<text x="247.12" y="363.1" text-anchor="middle">2.0</text>
<text x="294.4" y="363.1" text-anchor="middle">2.5</text>
<text x="394.9" y="353.8" text-anchor="end" letter-spacing="0.35">0.0</text>
<text x="394.9" y="317.43" text-anchor="end" letter-spacing="0.35">5.0e4</text>
<text x="394.9" y="281.07" text-anchor="end" letter-spacing="0.35">1.0e5</text>
<text x="394.9" y="244.7" text-anchor="end" letter-spacing="0.35">1.5e5</text>
<text x="400.5" y="363.1" text-anchor="middle">0.0</text>
<text x="447.88" y="363.1" text-anchor="middle">0.5</text>
<text x="495.26" y="363.1" text-anchor="middle">1.0</text>
<text x="542.64" y="363.1" text-anchor="middle">1.5</text>
<text x="590.02" y="363.1" text-anchor="middle">2.0</text>
<text x="637.4" y="363.1" text-anchor="middle">2.5</text>
<text x="52.4" y="562.8" text-anchor="end" letter-spacing="0.35">0</text>
<text x="52.4" y="525.67" text-anchor="end" letter-spacing="0.35">100</text>
<text x="52.4" y="488.53" text-anchor="end" letter-spacing="0.35">200</text>
<text x="52.4" y="451.4" text-anchor="end" letter-spacing="0.35">300</text>
<text x="58" y="572.1" text-anchor="middle">0.0</text>
<text x="105.32" y="572.1" text-anchor="middle">0.5</text>
<text x="152.64" y="572.1" text-anchor="middle">1.0</text>
<text x="199.96" y="572.1" text-anchor="middle">1.5</text>
<text x="247.28" y="572.1" text-anchor="middle">2.0</text>
<text x="294.6" y="572.1" text-anchor="middle">2.5</text>
<text x="394.9" y="561.8" text-anchor="end" letter-spacing="0.35">0.0</text>
<text x="394.9" y="528.37" text-anchor="end" letter-spacing="0.35">5.0e4</text>
<text x="394.9" y="494.93" text-anchor="end" letter-spacing="0.35">1.0e5</text>
<text x="394.9" y="461.5" text-anchor="end" letter-spacing="0.35">1.5e5</text>
<text x="400.5" y="571.1" text-anchor="middle">0.0</text>
<text x="447.9" y="571.1" text-anchor="middle">0.5</text>
<text x="495.3" y="571.1" text-anchor="middle">1.0</text>
<text x="542.7" y="571.1" text-anchor="middle">1.5</text>
<text x="590.1" y="571.1" text-anchor="middle">2.0</text>
<text x="637.5" y="571.1" text-anchor="middle">2.5</text>
</g>
<g font-size="10.0" fill="#1a1a1a">
<text x="199.35" y="168.8" text-anchor="middle" letter-spacing="0.18">Time, min</text>
<text font-size="11.1" transform="translate(11.2,78.6) rotate(-90)" text-anchor="middle">Intensity, cps</text>
<text x="542.7" y="168.8" text-anchor="middle" letter-spacing="0.18">Time, min</text>
<text font-size="11.1" transform="translate(353.5,78.1) rotate(-90)" text-anchor="middle">Intensity, cps</text>
<text x="198.75" y="377.2" text-anchor="middle" letter-spacing="0.18">Time, min</text>
<text font-size="11.1" transform="translate(9.7,286.1) rotate(-90)" text-anchor="middle">Intensity, cps</text>
<text x="541.6" y="377.2" text-anchor="middle" letter-spacing="0.18">Time, min</text>
<text font-size="11.1" transform="translate(351.4,286.6) rotate(-90)" text-anchor="middle">Intensity, cps</text>
<text x="198.75" y="586.2" text-anchor="middle" letter-spacing="0.18">Time, min</text>
<text font-size="11.1" transform="translate(9.7,495.6) rotate(-90)" text-anchor="middle">Intensity, cps</text>
<text x="541.6" y="586.2" text-anchor="middle" letter-spacing="0.18">Time, min</text>
<text font-size="11.1" transform="translate(351.4,495.1) rotate(-90)" text-anchor="middle">Intensity, cps</text>
</g>
<g font-size="9.9" fill="#1a1a1a" text-anchor="middle" letter-spacing="0.15">
<text x="85.35" y="75.4">0.28</text>
<text x="138.15" y="52.1">0.85</text>
<text x="171.35" y="52.1">1.19</text>
<text x="113.1" y="97.3">0.74</text>
<text x="199.05" y="51.8">1.49</text>
<text x="243.95" y="32.5">1.96</text>
<text x="302.75" y="32.3">2.75</text>
<text x="321.4" y="10.4">2.79</text>
<text x="224.7" y="75.3">1.61</text>
<text x="263.5" y="75.3">2.03</text>
<text x="294.2" y="75.3">2.67</text>
<text x="268.35" y="96.3">2.08</text>
<text x="474.2" y="9.1">0.76</text>
<text x="423.4" y="42.4">0.38</text>
<text x="450.55" y="42.4">0.52</text>
<text x="504.45" y="42.6">1.11</text>
<text x="528.25" y="42.6">1.18</text>
<text x="571.35" y="42.6">1.81</text>
<text x="601.95" y="42.6">2.13</text>
<text x="539.15" y="76.4">1.46</text>
<text x="625.55" y="9.8">2.39</text>
<text x="648" y="9.8">2.47</text>
<text x="649.65" y="42.8">2.64</text>
<text x="671" y="76.4">2.86</text>
<text x="589.6" y="105">1.99</text>
<text x="69.05" y="240.2">0.13</text>
<text x="120.1" y="259.5">0.82</text>
<text x="154.4" y="259.5">1.02</text>
<text x="202.05" y="240.2">1.53</text>
<text x="242.95" y="240.2">1.96</text>
<text x="178.4" y="282.6">1.28</text>
<text x="260.5" y="282.6">2.30</text>
<text x="289.4" y="282.6">2.46</text>
<text x="321" y="217.6">2.79</text>
<text x="85.6" y="323.8">0.45</text>
<text x="111.4" y="323.8">0.73</text>
<text x="568.7" y="217.5">1.78</text>
<text x="84.1" y="547">0.28</text>
<text x="174.15" y="549.1">1.39</text>
<text x="198.55" y="544.4">1.49</text>
<text x="223.65" y="541.5">1.76</text>
<text x="244.15" y="427.1">1.97</text>
<text x="270.1" y="546.9">2.25</text>
<text x="305.35" y="547">2.63</text>
<text x="569.05" y="426.2">1.78</text>
</g>
<g fill="none" stroke="#1a1a1a" stroke-width="0.8">
<polyline points="122.8,94.2 124.6,95.6 126.3,95.2 128.5,98.2"/>
<polyline points="312.4,31.1 314.5,31.8 317.2,34.6"/>
<polyline points="211.0,77.0 211.8,74.6 215.6,73.2"/>
<polyline points="250.0,77.0 250.8,74.6 254.3,73.2"/>
<polyline points="303.4,72.8 307.0,73.5 310.0,76.5"/>
<polyline points="255.3,97.7 256.2,95.2 259.6,93.5"/>
<polyline points="432.7,40.6 435.5,41.5 438.3,44.6"/>
<polyline points="513.5,44.5 514.4,42.0 518.5,40.0"/>
<polyline points="633.8,12.2 634.6,9.8 638.2,8.5"/>
<polyline points="129.5,257.8 132.5,258.5 135.5,261.8"/>
<polyline points="270.4,280.3 273.0,281.0 275.3,283.8"/>
<polyline points="95.3,322.5 97.5,323.2 100.0,325.6"/>
<polyline points="120.9,322.8 123.5,323.5 126.0,325.9"/>
<polyline points="183.4,547.3 186.0,548.5 188.6,550.8"/>
</g>
</svg></body></html>
